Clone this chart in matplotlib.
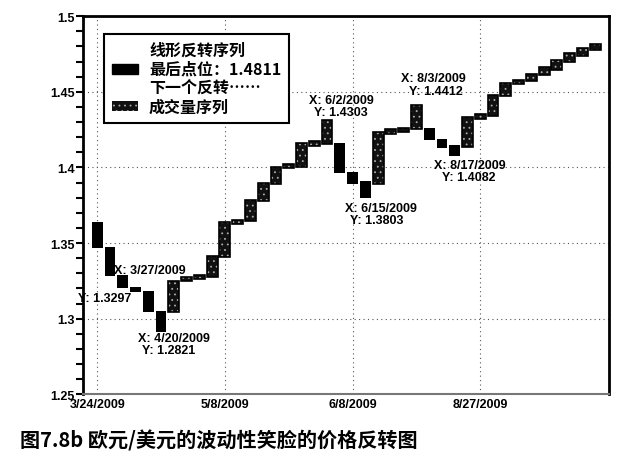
import numpy as np
import matplotlib.pyplot as plt
from matplotlib.patches import Patch

plt.rcParams['font.family'] = ['Liberation Sans', 'Noto Sans CJK SC', 'DejaVu Sans']
plt.rcParams['hatch.linewidth'] = 0.6

# line break bars: low / high value and direction (1 = up, -1 = down)
bar_low = [1.3467, 1.3281, 1.3204, 1.3176, 1.3046, 1.2914, 1.3046, 1.3248, 1.3261, 1.3274,
           1.3406, 1.3625, 1.3647, 1.3781, 1.3888, 1.3993, 1.4005, 1.4143, 1.4153, 1.3961,
           1.3890, 1.3796, 1.3890, 1.4219, 1.4235, 1.4252, 1.4180, 1.4130, 1.4077, 1.4136,
           1.4322, 1.4340, 1.4469, 1.4553, 1.4570, 1.4612, 1.4647, 1.4699, 1.4739, 1.4778]
bar_high = [1.3638, 1.3472, 1.3292, 1.3209, 1.3180, 1.3051, 1.3248, 1.3274, 1.3287, 1.3412,
            1.3636, 1.3653, 1.3785, 1.3895, 1.4005, 1.4020, 1.4163, 1.4173, 1.4311, 1.4163,
            1.3972, 1.3910, 1.4235, 1.4252, 1.4263, 1.4414, 1.4261, 1.4191, 1.4145, 1.4334,
            1.4351, 1.4480, 1.4557, 1.4579, 1.4618, 1.4662, 1.4711, 1.4755, 1.4787, 1.4816]
direction = [-1, -1, -1, -1, -1, -1, 1, 1, 1, 1,
             1, 1, 1, 1, 1, 1, 1, 1, 1, -1,
             -1, -1, 1, 1, 1, 1, -1, -1, -1, 1,
             1, 1, 1, 1, 1, 1, 1, 1, 1, 1]

tick_pos = [0, 10, 20, 30]
tick_labels = ['3/24/2009', '5/8/2009', '6/8/2009', '8/27/2009']

# data tips: X text, Y text, and where each line sits
tips = [
    ('X: 3/27/2009', 'Y: 1.3297', 4.1, 1.3325, 0.6, 1.3140),
    ('X: 4/20/2009', 'Y: 1.2821', 6.0, 1.2875, 5.6, 1.2795),
    ('X: 6/2/2009', 'Y: 1.4303', 19.1, 1.4445, 19.1, 1.4365),
    ('X: 6/15/2009', 'Y: 1.3803', 22.2, 1.3735, 21.9, 1.3650),
    ('X: 8/3/2009', 'Y: 1.4412', 26.3, 1.4590, 26.5, 1.4505),
    ('X: 8/17/2009', 'Y: 1.4082', 29.2, 1.4017, 29.1, 1.3938),
]

x = np.arange(len(bar_low))
low = np.array(bar_low)
high = np.array(bar_high)
up = np.array(direction) > 0

fig = plt.figure(figsize=(6.3, 4.64), dpi=100)
ax = fig.add_axes([0.132, 0.148, 0.835, 0.815])

w = 0.85
# down bars: solid black
ax.bar(x[~up], (high - low)[~up], bottom=low[~up], width=w, color='black', zorder=3)
# up bars: black with small white speckles
ax.bar(x[up], (high - low)[up], bottom=low[up], width=w, facecolor='#111111',
       edgecolor='#aaaaaa', hatch='...', linewidth=0, zorder=3)
ax.bar(x[up], (high - low)[up], bottom=low[up], width=w, fill=False,
       edgecolor='black', linewidth=1.2, zorder=4)

for xt, yt, x1, y1, x2, y2 in tips:
    ax.text(x1, y1, xt, ha='center', va='center', fontsize=9, fontweight='bold', zorder=5)
    ax.text(x2, y2, yt, ha='center', va='center', fontsize=9, fontweight='bold', zorder=5)

ax.set_xlim(-1.1, 40.1)
ax.set_ylim(1.25, 1.5)
ax.set_xticks(tick_pos)
ax.set_xticklabels(tick_labels, fontsize=9, fontweight='bold')
ax.set_yticks([1.25, 1.3, 1.35, 1.4, 1.45, 1.5])
ax.set_yticklabels(['1.25', '1.3', '1.35', '1.4', '1.45', '1.5'], fontsize=9, fontweight='bold')
ax.set_yticks(np.arange(1.25, 1.5, 0.01), minor=True)
ax.tick_params(axis='y', which='both', direction='out', length=5, width=1.5, pad=1)
ax.tick_params(axis='x', length=0, pad=3)
ax.grid(True, which='major', linestyle=(0, (1, 3)), color='#555555', linewidth=0.8, zorder=0)
for s in ['left', 'top', 'right']:
    ax.spines[s].set_linewidth(2)
ax.spines['bottom'].set_linewidth(1.5)
ax.spines['bottom'].set_color('#777777')

handles = [
    Patch(facecolor='black', edgecolor='black'),
    Patch(facecolor='#111111', edgecolor='#aaaaaa', hatch='...', linewidth=0),
]
labels = ['线形反转序列\n最后点位：1.4811\n下一个反转⋯⋯', '成交量序列']
leg = ax.legend(handles, labels, loc='upper left', bbox_to_anchor=(0.025, 0.975),
                prop={'family': ['Noto Sans CJK SC', 'DejaVu Sans'], 'size': 11.5,
                      'weight': 'bold'},
                fancybox=False, edgecolor='black', framealpha=1,
                handlelength=1.6, handleheight=0.6, handletextpad=0.7,
                borderpad=0.5, labelspacing=0.25)
leg.get_frame().set_linewidth(1.5)

fig.text(0.032, 0.035, '图7.8b 欧元/美元的波动性笑脸的价格反转图',
         family=['Noto Sans CJK SC', 'DejaVu Sans'], fontsize=14.5, fontweight='bold')

fig.savefig('out.png', dpi=100)
